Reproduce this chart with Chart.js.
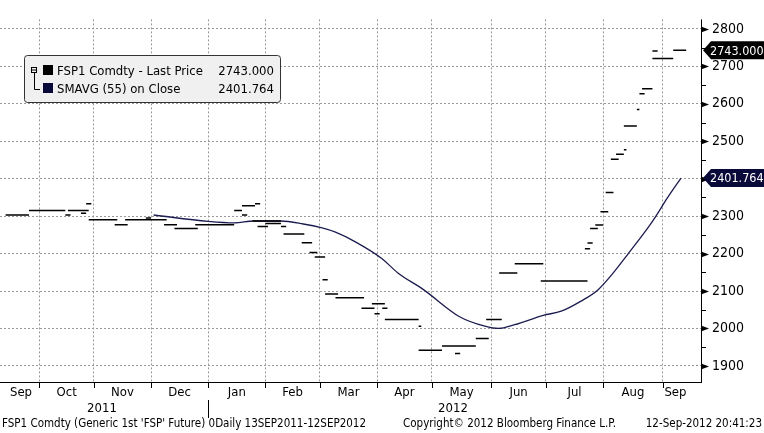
<!DOCTYPE html>
<html>
<head>
<meta charset="utf-8">
<script src="https://cdn.jsdelivr.net/npm/chart.js@4/dist/chart.umd.min.js"></script>
<style>
  body { margin: 0; background: #fff; }
  #wrap { width: 764px; height: 433px; }
</style>
</head>
<body>
<div id="wrap"><canvas id="chart" width="764" height="433"></canvas></div>
<script>
// x values are trading-day index from 13 Sep 2011
var segStart = [1,10,25,24,30,32,31,33,43,47,55,62,66,74,89,92,92,97,96,98,101,107,108,115,118,120,123,124,128,138,142,144,143,146,147,160,160,169,174,182,186,191,197,207,224,225,226,228,230,232,234,236,239,239,244,245,246,250,250,258];
var segEnd   = [10,24,31,26,32,34,33,44,48,63,57,67,75,89,92,94,97,99,107,102,107,109,116,119,121,124,125,129,139,143,144,147,145,148,160,161,169,182,176,187,192,198,208,225,226,227,229,231,233,235,237,239,240,244,245,247,250,252,258,263];
var segPrice = [2303,2315,2315,2303,2308,2333,2315,2290,2277,2290,2295,2277,2267,2277,2315,2303,2328,2333,2287,2272,2280,2272,2252,2229,2203,2191,2130,2092,2082,2054,2066,2066,2039,2054,2024,2006,1942,1953,1933,1973,2024,2148,2173,2127,2213,2228,2267,2276,2312,2363,2452,2465,2477,2541,2585,2627,2640,2741,2721,2743];

var smaX = [58,79,89,96.6,107,115.6,122.5,128,136,145.8,151.9,162,175.6,185.5,190.8,197,208,214.9,222.5,229,235,240.5,246.6,250.4,255.7,261];
var smaY = [2303,2286,2282,2287,2287,2279,2269,2257,2230,2187,2149,2103,2032,2006,2000,2010,2035,2046,2073,2103,2149,2198,2253,2290,2348,2401.764];

var monthStarts = [14,35,57,79,101,122,144,165,188,209,231,254];
var monthLabels = ['Sep','Oct','Nov','Dec','Jan','Feb','Mar','Apr','May','Jun','Jul','Aug','Sep'];
var yTicks = [1900,2000,2100,2200,2300,2400,2500,2600,2700,2800];
var lastPrice = 2743.000;
var lastSma = 2401.764;

var priceData = [];
for (var i = 0; i < segStart.length; i++) {
    priceData.push({x: segStart[i], y: segPrice[i]});
    priceData.push({x: segEnd[i], y: segPrice[i]});
    priceData.push({x: segEnd[i], y: null});
}
var smaData = smaX.map(function(x, i) { return {x: x, y: smaY[i]}; });

var FONT = "'DejaVu Sans Condensed', 'Liberation Sans Narrow', sans-serif";

var decor = {
    id: 'decor',
    afterDraw: function(chart) {
        var c = chart.ctx, a = chart.chartArea;
        var xs = chart.scales.x, ys = chart.scales.y;
        c.save();
        // axes lines
        c.strokeStyle = '#000'; c.lineWidth = 1;
        c.beginPath();
        c.moveTo(a.left, a.bottom + 0.5); c.lineTo(a.right + 1, a.bottom + 0.5);
        c.moveTo(a.right + 0.5, a.top); c.lineTo(a.right + 0.5, a.bottom);
        c.stroke();
        // x month ticks
        c.beginPath();
        monthStarts.forEach(function(m) {
            var px = Math.round(xs.getPixelForValue(m)) + 0.5;
            c.moveTo(px, a.bottom); c.lineTo(px, a.bottom + 6);
        });
        c.stroke();
        // year divider
        var jan = Math.round(xs.getPixelForValue(79)) + 0.5;
        c.beginPath(); c.moveTo(jan, a.bottom + 18); c.lineTo(jan, a.bottom + 36); c.stroke();
        // month labels
        c.fillStyle = '#000'; c.font = '13px ' + FONT;
        c.textAlign = 'center'; c.textBaseline = 'middle';
        var bounds = [xs.min + 1].concat(monthStarts).concat([xs.max - 5]);
        for (var i = 0; i < monthLabels.length; i++) {
            var mid = (xs.getPixelForValue(bounds[i]) + xs.getPixelForValue(bounds[i + 1])) / 2;
            c.fillText(monthLabels[i], mid, a.bottom + 11);
        }
        c.fillText('2011', 102, a.bottom + 27);
        c.fillText('2012', 453, a.bottom + 27);
        // y minor ticks and arrows
        for (var v = 1900; v <= 2800; v += 50) {
            var py = Math.round(ys.getPixelForValue(v)) + 0.5;
            if (v % 100 === 0) {
                c.beginPath();
                c.moveTo(a.right, py - 3); c.lineTo(a.right + 8, py); c.lineTo(a.right, py + 3);
                c.closePath(); c.fill();
            } else {
                c.beginPath(); c.moveTo(a.right, py); c.lineTo(a.right + 5, py); c.stroke();
            }
        }
        // footer
        c.font = '11.5px ' + FONT; c.textBaseline = 'middle';
        c.textAlign = 'left';
        c.fillText("FSP1 Comdty (Generic 1st 'FSP' Future) 0Daily 13SEP2011-12SEP2012", 2, 424);
        c.fillText('Copyright\u00A9 2012 Bloomberg Finance L.P.', 403, 424);
        c.textAlign = 'right';
        c.fillText('12-Sep-2012 20:41:23', 762, 424);
        // value tags
        function tag(val, col, txt) {
            var py = ys.getPixelForValue(val);
            c.fillStyle = col;
            c.beginPath();
            c.moveTo(a.right + 2, py); c.lineTo(a.right + 10, py - 9); c.lineTo(764, py - 9);
            c.lineTo(764, py + 9); c.lineTo(a.right + 10, py + 9); c.closePath(); c.fill();
            c.fillStyle = '#fff'; c.font = '12.5px ' + FONT; c.textAlign = 'left';
            c.fillText(txt, a.right + 9, py + 1);
        }
        tag(lastPrice, '#000', lastPrice.toFixed(3));
        tag(lastSma, '#0a0a3a', lastSma.toFixed(3));
        // legend
        c.fillStyle = '#f0f0f0'; c.strokeStyle = '#333';
        c.beginPath();
        c.roundRect(24.5, 55.5, 256, 47, 3); c.fill(); c.stroke();
        c.strokeStyle = '#000';
        c.strokeRect(31.5, 67.5, 5, 5);
        c.beginPath(); c.moveTo(32, 70); c.lineTo(36, 70);
        c.moveTo(34.5, 73); c.lineTo(34.5, 89.5); c.lineTo(40, 89.5); c.stroke();
        c.fillStyle = '#000'; c.fillRect(43, 65, 10, 10);
        c.fillStyle = '#0a0a3a'; c.fillRect(43, 83, 10, 10);
        c.fillStyle = '#000'; c.font = '13px ' + FONT; c.textBaseline = 'middle';
        c.textAlign = 'left';
        c.fillText('FSP1 Comdty - Last Price', 57, 72);
        c.fillText('SMAVG (55) on Close', 57, 90);
        c.textAlign = 'right';
        c.fillText(lastPrice.toFixed(3), 274, 72);
        c.fillText(lastSma.toFixed(3), 274, 90);
        c.restore();
    }
};

new Chart(document.getElementById('chart'), {
    type: 'line',
    data: {
        datasets: [{
            data: priceData,
            borderColor: '#000',
            borderWidth: 1.5,
            pointRadius: 0,
            spanGaps: false
        }, {
            data: smaData,
            borderColor: '#1c1c50',
            borderWidth: 1.3,
            pointRadius: 0,
            cubicInterpolationMode: 'monotone'
        }]
    },
    options: {
        responsive: false,
        animation: false,
        events: [],
        layout: { padding: 0 },
        plugins: { legend: { display: false }, tooltip: { enabled: false } },
        scales: {
            x: {
                type: 'linear', min: -1.15, max: 268.7,
                afterBuildTicks: function(s) { s.ticks = monthStarts.map(function(v) { return {value: v}; }); },
                afterFit: function(s) { s.height = 51; },
                ticks: { display: false },
                grid: { color: '#999', drawTicks: false },
                border: { display: false, dash: [2, 2] }
            },
            y: {
                position: 'right', min: 1857, max: 2825.4,
                afterBuildTicks: function(s) { s.ticks = yTicks.map(function(v) { return {value: v}; }); },
                afterFit: function(s) { s.width = 63; },
                ticks: { color: '#000', font: { family: FONT, size: 14 }, padding: 11,
                         callback: function(v) { return String(v); } },
                grid: { color: '#999', drawTicks: false },
                border: { display: false, dash: [2, 2] }
            }
        }
    },
    plugins: [decor]
});
</script>
</body>
</html>
